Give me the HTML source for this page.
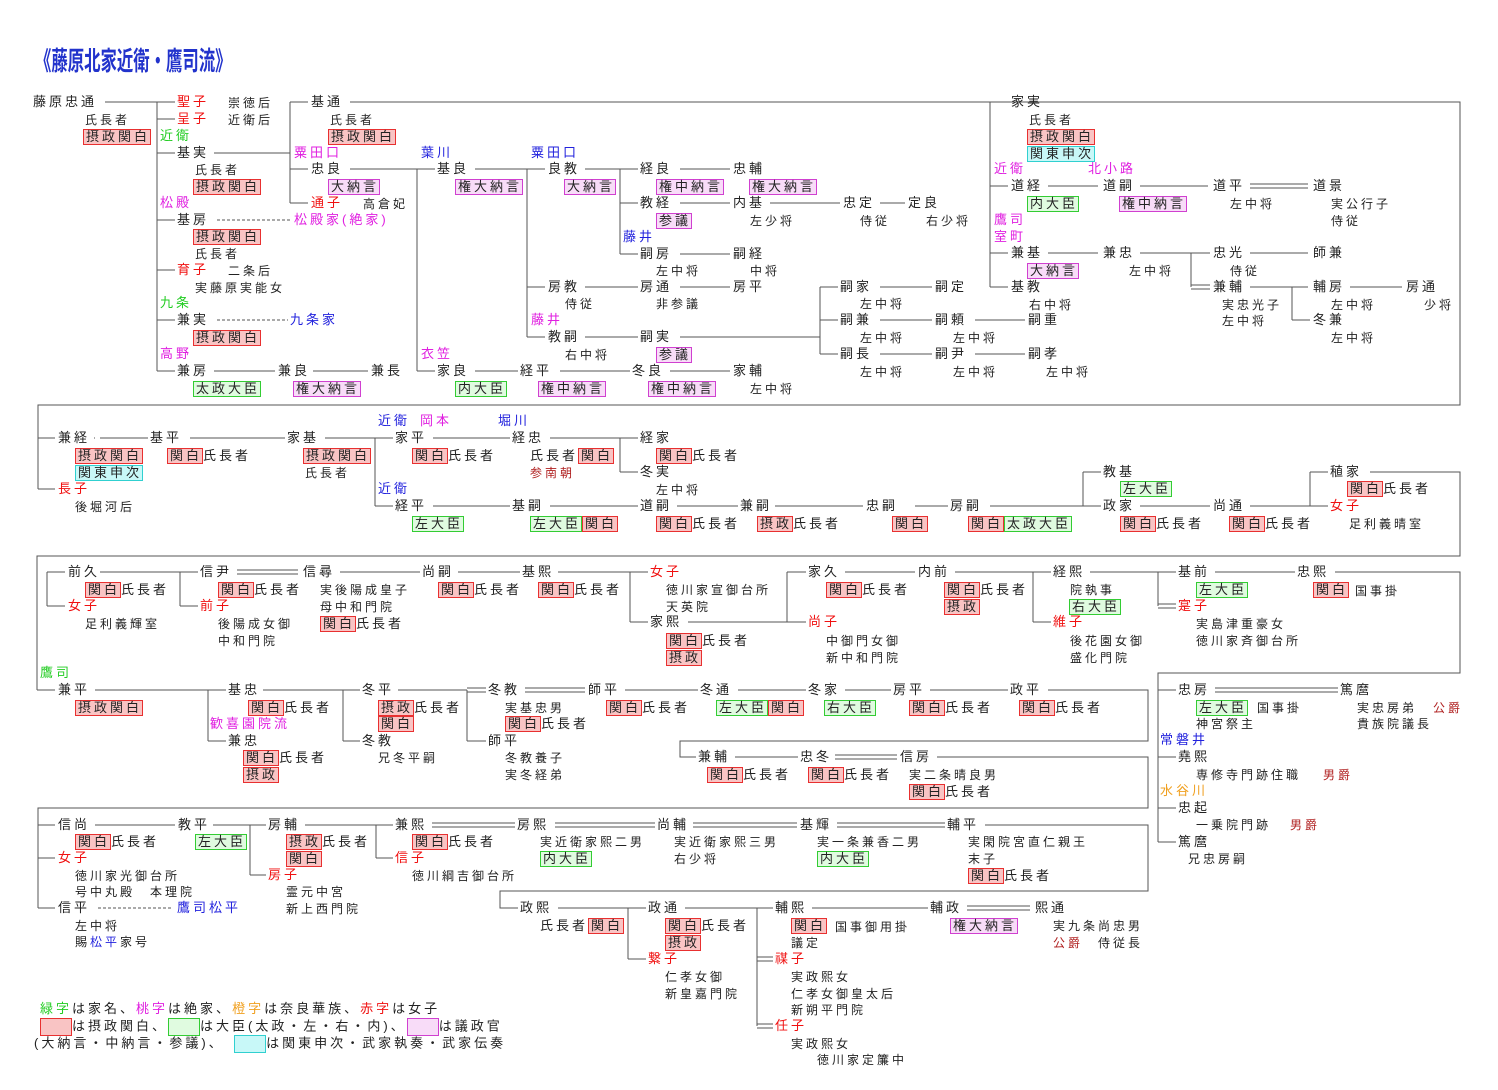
<!DOCTYPE html>
<html><head><meta charset="utf-8">
<style>
html,body{margin:0;padding:0;background:#fff}
#w{position:relative;width:1498px;height:1090px;overflow:hidden;background:#fff}
p{position:absolute;margin:0;font:13px/16px "Liberation Sans","Noto Sans CJK JP",sans-serif;letter-spacing:3px;white-space:nowrap;color:#222}
.s{font-size:12px}
.r{color:#f01010}.g{color:#22cc22}.m{color:#e020e0}.b{color:#2222dd}.o{color:#f0a020}.d{color:#b02020}
.K,.D,.P,.C{display:inline-block;line-height:14px;padding:0 0 0 2px;border:1px solid}
.K{background:#f9c4c4;border-color:#e83030}
.D{background:#e0fbe0;border-color:#33cc33}
.P{background:#f8dcf8;border-color:#d040d0}
.C{background:#c8f8f8;border-color:#30d0d0}
.lb{display:inline-block;width:30px;height:16px;border:1px solid;vertical-align:middle}
#t{position:absolute;left:35px;top:45px;font:bold 26px/32px "Liberation Sans","Noto Sans CJK JP",sans-serif;color:#2233cc;transform:scaleX(0.63);transform-origin:0 0;white-space:nowrap;letter-spacing:0}
svg{position:absolute;left:0;top:0}
.lg{letter-spacing:3px;font-size:13px}
</style></head><body><div id="w">
<svg width="1498" height="1090">
<g fill="none" stroke="#555" stroke-width="1">
<path d="M105 102H157 M157 102V371 M157 102H175 M157 119H175 M157 153H175 M157 220H175 M157 270H175 M157 320H175 M157 371H175
M214 153H290 M290 102V203 M290 102H308 M290 169H308 M290 203H308
M350 102H1460V405H38V489 M38 438H55 M38 489H55
M350 169H435 M417 169V371 M417 371H435
M475 169H545 M527 169V337 M527 287H545 M527 337H545 M585 169H638 M620 169V254 M620 203H638 M620 254H638
M680 169H730 M680 203H730 M770 203H840 M880 203H905 M680 254H730
M585 287H638 M680 287H730 M585 337H638 M680 337H820 M820 287V354 M820 287H838 M820 320H838 M820 354H838
M880 287H932 M880 320H932 M975 320H1025 M880 354H932 M975 354H1025
M214 371H275 M313 371H368 M475 371H518 M560 371H630 M670 371H730
M990 102V287 M990 102H1008 M990 186H1008 M990 253H1008 M990 287H1008
M1048 186H1098 M1140 186H1208 M1250 184H1308 M1250 188H1308
M1048 253H1098 M1140 253H1210 M1191 253V287 M1191 285H1210 M1191 289H1210 M1250 253H1308 M1250 287H1308 M1292 287V320 M1292 320H1310 M1350 287H1402
M100 438H148 M190 438H285 M325 438H393 M375 438V506 M375 506H393 M433 438H510 M550 438H638 M620 438V472 M620 472H638
M433 506H510 M550 506H638 M677 506H738 M775 506H863 M915 506H948 M990 506H1101 M1083 472V506 M1083 472H1101 M1140 506H1210 M1250 506H1328 M1310 472V506 M1310 472H1328
M1370 472H1460V556H37V690 M37 690H55 M47 572H65 M47 572V606 M47 606H65
M100 572H198 M180 572V606 M180 606H198 M237 570H298 M237 574H298 M340 572H420 M458 572H520 M558 572H648 M630 572V622 M630 622H648 M688 622H787 M787 572V622 M787 572H806 M787 622H806
M845 572H915 M955 572H1051 M1033 572V622 M1033 622H1051 M1090 572H1176 M1158 572V606 M1158 604H1176 M1158 608H1176 M1215 572H1295 M1335 572H1460V673H1158V842 M1158 690H1176 M1158 757H1176 M1158 808H1176 M1158 842H1176
M1215 688H1338 M1215 692H1338
M95 690H226 M208 690V741 M208 741H226 M263 690H360 M343 690V741 M343 741H360 M398 690H467 M467 690V741 M467 741H486 M467 688H486 M467 692H486
M525 688H585 M525 692H585 M625 690H698 M738 690H806 M845 690H891 M930 690H1008 M1048 690H1148V741H680V757H696 M735 757H798 M835 755H897 M835 759H897 M937 757H1148V808H38V908 M38 825H55 M38 858H55 M38 908H55
M95 825H175 M213 825H266 M250 825V875 M250 875H266 M305 825H393 M376 825V858 M376 858H393
M432 823H515 M432 827H515 M555 823H655 M555 827H655 M693 823H797 M693 827H797 M837 823H945 M837 827H945
M985 825H1148V891H500V908H518 M558 908H646 M628 908V959 M628 959H646 M685 908H773 M757 908V1026 M812 908H928 M967 906H1030 M967 910H1030 M757 957H773 M757 961H773 M757 1024H773 M757 1028H773"/>
<path stroke-dasharray="3,2" d="M217 220H290 M217 320H288 M98 908H172"/>
<path d="M94 438h1"/>
</g></svg>
<div id="t">《藤原北家近衛・鷹司流》</div>

<!-- band 1 -->
<p style="left:33px;top:94px">藤原忠通</p>
<p class="s" style="left:85px;top:112px">氏長者</p>
<p style="left:83px;top:129px"><span class="K">摂政関白</span></p>
<p class="r" style="left:177px;top:94px">聖子</p><p class="s" style="left:228px;top:95px">崇徳后</p>
<p class="r" style="left:177px;top:111px">呈子</p><p class="s" style="left:228px;top:112px">近衛后</p>
<p class="g" style="left:160px;top:128px">近衛</p>
<p style="left:177px;top:145px">基実</p>
<p class="s" style="left:195px;top:162px">氏長者</p>
<p style="left:193px;top:179px"><span class="K">摂政関白</span></p>
<p class="m" style="left:160px;top:195px">松殿</p>
<p style="left:177px;top:212px">基房</p><p class="m" style="left:294px;top:212px">松殿家(絶家)</p>
<p style="left:193px;top:229px"><span class="K">摂政関白</span></p>
<p class="s" style="left:195px;top:246px">氏長者</p>
<p class="r" style="left:177px;top:262px">育子</p><p class="s" style="left:228px;top:263px">二条后</p>
<p class="s" style="left:195px;top:280px">実藤原実能女</p>
<p class="g" style="left:160px;top:295px">九条</p>
<p style="left:177px;top:312px">兼実</p><p class="b" style="left:290px;top:312px">九条家</p>
<p style="left:193px;top:330px"><span class="K">摂政関白</span></p>
<p class="m" style="left:160px;top:346px">高野</p>
<p style="left:177px;top:363px">兼房</p><p style="left:278px;top:363px">兼良</p><p style="left:371px;top:363px">兼長</p>
<p style="left:193px;top:381px"><span class="D">太政大臣</span></p>
<p style="left:293px;top:381px"><span class="P">権大納言</span></p>

<p style="left:311px;top:94px">基通</p>
<p class="s" style="left:330px;top:112px">氏長者</p>
<p style="left:328px;top:129px"><span class="K">摂政関白</span></p>
<p class="m" style="left:294px;top:145px">粟田口</p>
<p style="left:311px;top:161px">忠良</p>
<p style="left:328px;top:179px"><span class="P">大納言</span></p>
<p class="r" style="left:311px;top:195px">通子</p><p class="s" style="left:363px;top:196px">高倉妃</p>
<p class="b" style="left:421px;top:145px">葉川</p>
<p style="left:437px;top:161px">基良</p>
<p style="left:455px;top:179px"><span class="P">権大納言</span></p>
<p class="m" style="left:421px;top:346px">衣笠</p>
<p style="left:437px;top:363px">家良</p><p style="left:520px;top:363px">経平</p><p style="left:632px;top:363px">冬良</p><p style="left:733px;top:363px">家輔</p>
<p style="left:455px;top:381px"><span class="D">内大臣</span></p>
<p style="left:538px;top:381px"><span class="P">権中納言</span></p>
<p style="left:648px;top:381px"><span class="P">権中納言</span></p>
<p class="s" style="left:750px;top:381px">左中将</p>

<p class="b" style="left:531px;top:145px">粟田口</p>
<p style="left:548px;top:161px">良教</p>
<p style="left:564px;top:179px"><span class="P">大納言</span></p>
<p style="left:640px;top:161px">経良</p><p style="left:733px;top:161px">忠輔</p>
<p style="left:656px;top:179px"><span class="P">権中納言</span></p>
<p style="left:749px;top:179px"><span class="P">権大納言</span></p>
<p style="left:640px;top:195px">教経</p><p style="left:733px;top:195px">内基</p><p style="left:843px;top:195px">忠定</p><p style="left:908px;top:195px">定良</p>
<p style="left:656px;top:213px"><span class="P">参議</span></p>
<p class="s" style="left:750px;top:213px">左少将</p><p class="s" style="left:860px;top:213px">侍従</p><p class="s" style="left:926px;top:213px">右少将</p>
<p class="b" style="left:623px;top:229px">藤井</p>
<p style="left:640px;top:246px">嗣房</p><p style="left:733px;top:246px">嗣経</p>
<p class="s" style="left:656px;top:263px">左中将</p><p class="s" style="left:750px;top:263px">中将</p>
<p style="left:548px;top:279px">房教</p><p style="left:640px;top:279px">房通</p><p style="left:733px;top:279px">房平</p>
<p class="s" style="left:565px;top:296px">侍従</p><p class="s" style="left:656px;top:296px">非参議</p>
<p class="m" style="left:531px;top:312px">藤井</p>
<p style="left:548px;top:329px">教嗣</p><p style="left:640px;top:329px">嗣実</p>
<p class="s" style="left:565px;top:347px">右中将</p>
<p style="left:656px;top:347px"><span class="P">参議</span></p>
<p style="left:840px;top:279px">嗣家</p><p style="left:935px;top:279px">嗣定</p>
<p class="s" style="left:860px;top:296px">左中将</p>
<p style="left:840px;top:312px">嗣兼</p><p style="left:935px;top:312px">嗣頼</p><p style="left:1028px;top:312px">嗣重</p>
<p class="s" style="left:860px;top:330px">左中将</p><p class="s" style="left:953px;top:330px">左中将</p>
<p style="left:840px;top:346px">嗣長</p><p style="left:935px;top:346px">嗣尹</p><p style="left:1028px;top:346px">嗣孝</p>
<p class="s" style="left:860px;top:364px">左中将</p><p class="s" style="left:953px;top:364px">左中将</p><p class="s" style="left:1046px;top:364px">左中将</p>

<p style="left:1011px;top:94px">家実</p>
<p class="s" style="left:1029px;top:112px">氏長者</p>
<p style="left:1027px;top:129px"><span class="K">摂政関白</span></p>
<p style="left:1027px;top:146px"><span class="C">関東申次</span></p>
<p class="m" style="left:994px;top:161px">近衛</p><p class="m" style="left:1088px;top:161px">北小路</p>
<p style="left:1011px;top:178px">道経</p><p style="left:1103px;top:178px">道嗣</p><p style="left:1213px;top:178px">道平</p><p style="left:1313px;top:178px">道景</p>
<p style="left:1027px;top:196px"><span class="D">内大臣</span></p>
<p style="left:1119px;top:196px"><span class="P">権中納言</span></p>
<p class="s" style="left:1230px;top:196px">左中将</p><p class="s" style="left:1331px;top:196px">実公行子</p>
<p class="s" style="left:1331px;top:213px">侍従</p>
<p class="m" style="left:994px;top:212px">鷹司</p><p class="m" style="left:994px;top:229px">室町</p>
<p style="left:1011px;top:245px">兼基</p><p style="left:1103px;top:245px">兼忠</p><p style="left:1213px;top:245px">忠光</p><p style="left:1313px;top:245px">師兼</p>
<p style="left:1027px;top:263px"><span class="P">大納言</span></p>
<p class="s" style="left:1129px;top:263px">左中将</p><p class="s" style="left:1230px;top:263px">侍従</p>
<p style="left:1011px;top:279px">基教</p><p style="left:1213px;top:279px">兼輔</p><p style="left:1313px;top:279px">輔房</p><p style="left:1406px;top:279px">房通</p>
<p class="s" style="left:1029px;top:297px">右中将</p><p class="s" style="left:1222px;top:297px">実忠光子</p><p class="s" style="left:1331px;top:297px">左中将</p><p class="s" style="left:1424px;top:297px">少将</p>
<p class="s" style="left:1222px;top:313px">左中将</p>
<p style="left:1313px;top:312px">冬兼</p>
<p class="s" style="left:1331px;top:330px">左中将</p>

<!-- band 2 -->
<p style="left:58px;top:430px">兼経</p><p style="left:150px;top:430px">基平</p><p style="left:287px;top:430px">家基</p>
<p style="left:75px;top:448px"><span class="K">摂政関白</span></p>
<p style="left:75px;top:465px"><span class="C">関東申次</span></p>
<p class="r" style="left:58px;top:481px">長子</p>
<p class="s" style="left:75px;top:499px">後堀河后</p>
<p style="left:167px;top:448px"><span class="K">関白</span>氏長者</p>
<p style="left:303px;top:448px"><span class="K">摂政関白</span></p>
<p class="s" style="left:305px;top:465px">氏長者</p>
<p class="b" style="left:378px;top:413px">近衛</p><p class="m" style="left:420px;top:413px">岡本</p><p class="b" style="left:498px;top:413px">堀川</p>
<p style="left:395px;top:430px">家平</p><p style="left:512px;top:430px">経忠</p><p style="left:640px;top:430px">経家</p>
<p style="left:412px;top:448px"><span class="K">関白</span>氏長者</p>
<p style="left:530px;top:448px">氏長者<span class="K">関白</span></p>
<p class="d s" style="left:530px;top:465px">参南朝</p>
<p style="left:656px;top:448px"><span class="K">関白</span>氏長者</p>
<p style="left:640px;top:464px">冬実</p>
<p class="s" style="left:656px;top:482px">左中将</p>
<p class="b" style="left:378px;top:481px">近衛</p>
<p style="left:395px;top:498px">経平</p><p style="left:512px;top:498px">基嗣</p><p style="left:640px;top:498px">道嗣</p><p style="left:740px;top:498px">兼嗣</p><p style="left:866px;top:498px">忠嗣</p><p style="left:950px;top:498px">房嗣</p>
<p style="left:412px;top:516px"><span class="D">左大臣</span></p>
<p style="left:530px;top:516px"><span class="D">左大臣</span><span class="K">関白</span></p>
<p style="left:656px;top:516px"><span class="K">関白</span>氏長者</p>
<p style="left:757px;top:516px"><span class="K">摂政</span>氏長者</p>
<p style="left:892px;top:516px"><span class="K">関白</span></p>
<p style="left:968px;top:516px"><span class="K">関白</span><span class="D">太政大臣</span></p>
<p style="left:1103px;top:464px">教基</p>
<p style="left:1120px;top:481px"><span class="D">左大臣</span></p>
<p style="left:1103px;top:498px">政家</p><p style="left:1213px;top:498px">尚通</p>
<p style="left:1120px;top:516px"><span class="K">関白</span>氏長者</p>
<p style="left:1229px;top:516px"><span class="K">関白</span>氏長者</p>
<p style="left:1330px;top:464px">稙家</p>
<p style="left:1347px;top:481px"><span class="K">関白</span>氏長者</p>
<p class="r" style="left:1330px;top:498px">女子</p>
<p class="s" style="left:1349px;top:516px">足利義晴室</p>

<!-- band 3 -->
<p style="left:68px;top:564px">前久</p>
<p style="left:85px;top:582px"><span class="K">関白</span>氏長者</p>
<p class="r" style="left:68px;top:598px">女子</p>
<p class="s" style="left:85px;top:616px">足利義輝室</p>
<p style="left:200px;top:564px">信尹</p><p style="left:303px;top:564px">信尋</p><p style="left:422px;top:564px">尚嗣</p><p style="left:522px;top:564px">基熙</p>
<p style="left:218px;top:582px"><span class="K">関白</span>氏長者</p>
<p class="r" style="left:200px;top:598px">前子</p>
<p class="s" style="left:218px;top:616px">後陽成女御</p>
<p class="s" style="left:218px;top:633px">中和門院</p>
<p class="s" style="left:320px;top:582px">実後陽成皇子</p>
<p class="s" style="left:320px;top:599px">母中和門院</p>
<p style="left:320px;top:616px"><span class="K">関白</span>氏長者</p>
<p style="left:438px;top:582px"><span class="K">関白</span>氏長者</p>
<p style="left:538px;top:582px"><span class="K">関白</span>氏長者</p>
<p class="r" style="left:650px;top:564px">女子</p>
<p class="s" style="left:666px;top:582px">徳川家宣御台所</p>
<p class="s" style="left:666px;top:599px">天英院</p>
<p style="left:650px;top:614px">家熙</p>
<p style="left:666px;top:633px"><span class="K">関白</span>氏長者</p>
<p style="left:666px;top:650px"><span class="K">摂政</span></p>
<p style="left:808px;top:564px">家久</p><p style="left:918px;top:564px">内前</p><p style="left:1053px;top:564px">経熙</p><p style="left:1178px;top:564px">基前</p><p style="left:1297px;top:564px">忠熙</p>
<p style="left:826px;top:582px"><span class="K">関白</span>氏長者</p>
<p class="r" style="left:808px;top:614px">尚子</p>
<p class="s" style="left:826px;top:633px">中御門女御</p>
<p class="s" style="left:826px;top:650px">新中和門院</p>
<p style="left:944px;top:582px"><span class="K">関白</span>氏長者</p>
<p style="left:944px;top:599px"><span class="K">摂政</span></p>
<p class="s" style="left:1070px;top:582px">院執事</p>
<p style="left:1069px;top:599px"><span class="D">右大臣</span></p>
<p class="r" style="left:1053px;top:614px">維子</p>
<p class="s" style="left:1070px;top:633px">後花園女御</p>
<p class="s" style="left:1070px;top:650px">盛化門院</p>
<p style="left:1196px;top:582px"><span class="D">左大臣</span></p>
<p class="r" style="left:1178px;top:598px">寔子</p>
<p class="s" style="left:1196px;top:616px">実島津重豪女</p>
<p class="s" style="left:1196px;top:633px">徳川家斉御台所</p>
<p style="left:1313px;top:582px"><span class="K">関白</span></p><p class="s" style="left:1355px;top:583px">国事掛</p>

<p class="g" style="left:40px;top:665px">鷹司</p>
<p style="left:58px;top:682px">兼平</p>
<p style="left:75px;top:700px"><span class="K">摂政関白</span></p>
<p style="left:228px;top:682px">基忠</p>
<p style="left:248px;top:700px"><span class="K">関白</span>氏長者</p>
<p class="m" style="left:210px;top:716px">歓喜園院流</p>
<p style="left:228px;top:733px">兼忠</p>
<p style="left:243px;top:750px"><span class="K">関白</span>氏長者</p>
<p style="left:243px;top:767px"><span class="K">摂政</span></p>
<p style="left:362px;top:682px">冬平</p>
<p style="left:378px;top:700px"><span class="K">摂政</span>氏長者</p>
<p style="left:378px;top:716px"><span class="K">関白</span></p>
<p style="left:362px;top:733px">冬教</p>
<p class="s" style="left:378px;top:750px">兄冬平嗣</p>
<p style="left:488px;top:682px">冬教</p><p style="left:588px;top:682px">師平</p><p style="left:700px;top:682px">冬通</p><p style="left:808px;top:682px">冬家</p><p style="left:893px;top:682px">房平</p><p style="left:1010px;top:682px">政平</p>
<p class="s" style="left:505px;top:700px">実基忠男</p>
<p style="left:505px;top:716px"><span class="K">関白</span>氏長者</p>
<p style="left:488px;top:733px">師平</p>
<p class="s" style="left:505px;top:750px">冬教養子</p>
<p class="s" style="left:505px;top:767px">実冬経弟</p>
<p style="left:606px;top:700px"><span class="K">関白</span>氏長者</p>
<p style="left:716px;top:700px"><span class="D">左大臣</span><span class="K">関白</span></p>
<p style="left:824px;top:700px"><span class="D">右大臣</span></p>
<p style="left:909px;top:700px"><span class="K">関白</span>氏長者</p>
<p style="left:1019px;top:700px"><span class="K">関白</span>氏長者</p>
<p style="left:698px;top:749px">兼輔</p><p style="left:800px;top:749px">忠冬</p><p style="left:900px;top:749px">信房</p>
<p style="left:707px;top:767px"><span class="K">関白</span>氏長者</p>
<p style="left:808px;top:767px"><span class="K">関白</span>氏長者</p>
<p class="s" style="left:909px;top:767px">実二条晴良男</p>
<p style="left:909px;top:784px"><span class="K">関白</span>氏長者</p>

<p style="left:1178px;top:682px">忠房</p><p style="left:1340px;top:682px">篤麿</p>
<p style="left:1196px;top:700px"><span class="D">左大臣</span></p><p class="s" style="left:1257px;top:700px">国事掛</p>
<p class="s" style="left:1196px;top:716px">神宮祭主</p>
<p class="s" style="left:1357px;top:700px">実忠房弟</p><p class="s d" style="left:1433px;top:700px">公爵</p>
<p class="s" style="left:1357px;top:716px">貴族院議長</p>
<p class="b" style="left:1160px;top:732px">常磐井</p>
<p style="left:1178px;top:749px">堯熙</p>
<p class="s" style="left:1196px;top:767px">専修寺門跡住職</p><p class="s d" style="left:1323px;top:767px">男爵</p>
<p class="o" style="left:1160px;top:783px">水谷川</p>
<p style="left:1178px;top:800px">忠起</p>
<p class="s" style="left:1196px;top:817px">一乗院門跡</p><p class="s d" style="left:1290px;top:817px">男爵</p>
<p style="left:1178px;top:834px">篤麿</p>
<p class="s" style="left:1188px;top:851px">兄忠房嗣</p>

<!-- band 5 -->
<p style="left:58px;top:817px">信尚</p><p style="left:178px;top:817px">教平</p><p style="left:268px;top:817px">房輔</p>
<p style="left:75px;top:834px"><span class="K">関白</span>氏長者</p>
<p style="left:195px;top:834px"><span class="D">左大臣</span></p>
<p class="r" style="left:58px;top:850px">女子</p>
<p class="s" style="left:75px;top:868px">徳川家光御台所</p>
<p class="s" style="left:75px;top:884px">号中丸殿　本理院</p>
<p style="left:58px;top:900px">信平</p><p class="b" style="left:177px;top:900px">鷹司松平</p>
<p class="s" style="left:75px;top:918px">左中将</p>
<p class="s" style="left:75px;top:934px">賜<span class="b">松平</span>家号</p>
<p style="left:286px;top:834px"><span class="K">摂政</span>氏長者</p>
<p style="left:286px;top:851px"><span class="K">関白</span></p>
<p class="r" style="left:268px;top:867px">房子</p>
<p class="s" style="left:286px;top:884px">霊元中宮</p>
<p class="s" style="left:286px;top:901px">新上西門院</p>
<p style="left:395px;top:817px">兼熙</p><p style="left:517px;top:817px">房熙</p><p style="left:657px;top:817px">尚輔</p><p style="left:800px;top:817px">基輝</p><p style="left:947px;top:817px">輔平</p>
<p style="left:412px;top:834px"><span class="K">関白</span>氏長者</p>
<p class="r" style="left:395px;top:850px">信子</p>
<p class="s" style="left:412px;top:868px">徳川綱吉御台所</p>
<p class="s" style="left:540px;top:834px">実近衛家熙二男</p>
<p style="left:540px;top:851px"><span class="D">内大臣</span></p>
<p class="s" style="left:674px;top:834px">実近衛家熙三男</p>
<p class="s" style="left:674px;top:851px">右少将</p>
<p class="s" style="left:817px;top:834px">実一条兼香二男</p>
<p style="left:817px;top:851px"><span class="D">内大臣</span></p>
<p class="s" style="left:968px;top:834px">実閑院宮直仁親王</p>
<p class="s" style="left:968px;top:851px">末子</p>
<p style="left:968px;top:868px"><span class="K">関白</span>氏長者</p>
<p style="left:520px;top:900px">政熙</p>
<p style="left:540px;top:918px">氏長者<span class="K">関白</span></p>
<p style="left:648px;top:900px">政通</p>
<p style="left:665px;top:918px"><span class="K">関白</span>氏長者</p>
<p style="left:665px;top:935px"><span class="K">摂政</span></p>
<p class="r" style="left:648px;top:951px">繋子</p>
<p class="s" style="left:665px;top:969px">仁孝女御</p>
<p class="s" style="left:665px;top:986px">新皇嘉門院</p>
<p style="left:775px;top:900px">輔熙</p><p style="left:930px;top:900px">輔政</p><p style="left:1035px;top:900px">熙通</p>
<p style="left:791px;top:918px"><span class="K">関白</span></p><p class="s" style="left:835px;top:919px">国事御用掛</p>
<p class="s" style="left:791px;top:935px">議定</p>
<p style="left:950px;top:918px"><span class="P">権大納言</span></p>
<p class="s" style="left:1053px;top:918px">実九条尚忠男</p>
<p class="s" style="left:1053px;top:935px"><span class="d">公爵</span>　侍従長</p>
<p class="r" style="left:775px;top:951px">禖子</p>
<p class="s" style="left:791px;top:969px">実政熙女</p>
<p class="s" style="left:791px;top:986px">仁孝女御皇太后</p>
<p class="s" style="left:791px;top:1002px">新朔平門院</p>
<p class="r" style="left:775px;top:1018px">任子</p>
<p class="s" style="left:791px;top:1036px">実政熙女</p>
<p class="s" style="left:817px;top:1052px">徳川家定簾中</p>

<!-- legend -->
<p class="lg" style="left:40px;top:1001px"><span class="g">緑字</span>は家名、<span class="m">桃字</span>は絶家、<span class="o">橙字</span>は奈良華族、<span class="r">赤字</span>は女子</p>
<p class="lg" style="left:40px;top:1018px"><span class="lb" style="background:#f9c4c4;border-color:#e83030"></span>は摂政関白、<span class="lb" style="background:#e0fbe0;border-color:#33cc33"></span>は大臣(太政・左・右・内)、<span class="lb" style="background:#f8dcf8;border-color:#d040d0"></span>は議政官</p>
<p class="lg" style="left:34px;top:1035px">(大納言・中納言・参議)、　<span class="lb" style="background:#c8f8f8;border-color:#30d0d0"></span>は関東申次・武家執奏・武家伝奏</p>
</div></body></html>
